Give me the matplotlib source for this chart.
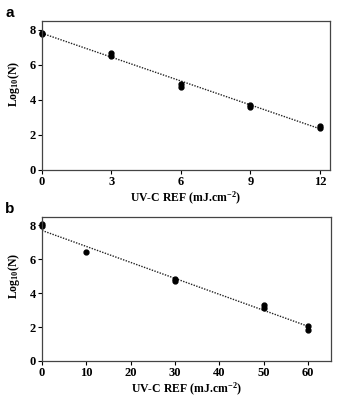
import numpy as np
import matplotlib as mpl
mpl.use('Agg')
import matplotlib.pyplot as plt

plt.rcParams['font.family'] = 'Liberation Serif'
plt.rcParams['font.weight'] = 'bold'
plt.rcParams['mathtext.fontset'] = 'custom'
plt.rcParams['mathtext.rm'] = 'Liberation Serif:bold'
plt.rcParams['mathtext.bf'] = 'Liberation Serif:bold'
plt.rcParams['mathtext.default'] = 'rm'

# panel a: dose (mJ/cm2) vs log10(N), replicate points
dose_a = [0, 0, 3, 3, 6, 6, 9, 9, 12, 12]
logn_a = [7.82, 7.74, 6.65, 6.5, 4.88, 4.75, 3.7, 3.6, 2.52, 2.42]
fit_a = [7.8, 2.35]   # line at dose 0 and 12

# panel b
dose_b = [0, 0, 10, 30, 30, 50, 50, 60, 60]
logn_b = [8.08, 7.98, 6.42, 4.85, 4.7, 3.3, 3.1, 2.05, 1.85]
fit_b = [7.7, 2.05]   # line at dose 0 and 60

fig = plt.figure(figsize=(3.46, 3.98), dpi=100)
ax1 = fig.add_axes([0.1214, 0.5729, 0.832, 0.3743])
ax2 = fig.add_axes([0.1214, 0.093, 0.835, 0.362])


def style(ax, xticks, xmax, ylab_y):
    ax.set_xlim(0, xmax)
    ax.set_ylim(0, 8.5)
    ax.set_xticks(xticks)
    ax.set_yticks([0, 2, 4, 6, 8])
    ax.tick_params(direction='out', length=3, width=0.8, labelsize=9, pad=1.5)
    for s in ax.spines.values():
        s.set_linewidth(0.9)
        s.set_color('#444444')
    ax.set_xlabel('UV-C REF (mJ.cm$^{-2}$)', fontsize=8.5, fontweight='bold', labelpad=1)
    ax.set_ylabel('Log$_{10}$(N)', fontsize=8.5, fontweight='bold')
    ax.yaxis.set_label_coords(-0.068, ylab_y)


ax1.plot([0, 12], fit_a, linestyle=(0, (1, 1)), color='#222222', lw=1)
ax1.plot(dose_a, logn_a, 'o', color='black', ms=3.5, clip_on=False)
style(ax1, [0, 3, 6, 9, 12], 12.43, 0.577)

ax2.plot([0, 60], fit_b, linestyle=(0, (1, 1)), color='#222222', lw=1)
ax2.plot(dose_b, logn_b, 'o', color='black', ms=3.5, clip_on=False)
style(ax2, [0, 10, 20, 30, 40, 50, 60], 65.2, 0.59)

fig.text(0.015, 0.957, 'a', family='Liberation Sans', fontweight='bold', fontsize=11)
fig.text(0.015, 0.465, 'b', family='Liberation Sans', fontweight='bold', fontsize=11)

fig.savefig('out.png', dpi=100)
